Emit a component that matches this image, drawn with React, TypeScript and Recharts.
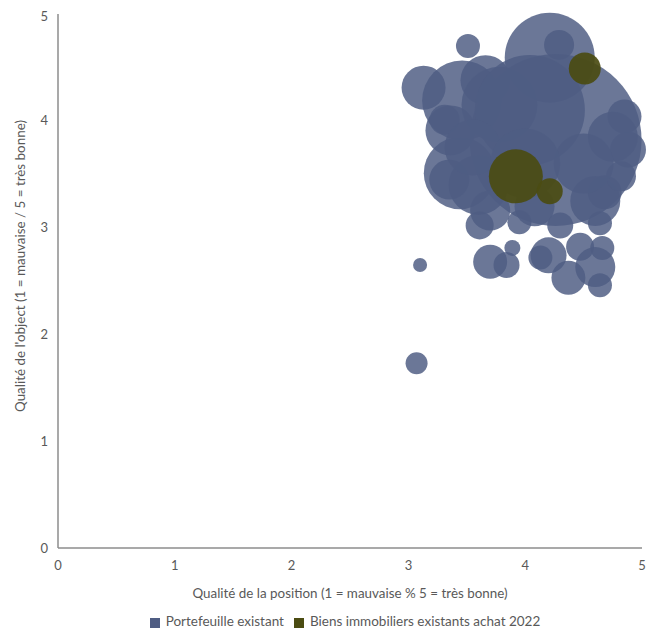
import React from "react";
import {
  ScatterChart,
  Scatter,
  XAxis,
  YAxis,
  ZAxis,
  Legend,
} from "recharts";

// Portefeuille existant: position quality, object quality, bubble size
const portfolioX = [
  4.21, 4.29, 4.26, 3.13, 3.51, 3.46, 3.36, 3.66, 3.78, 4.04, 3.31, 3.44,
  3.6, 3.7, 3.61, 3.7, 3.84, 3.89, 3.1, 3.07, 4.3, 4.2, 4.13, 4.37, 4.47,
  4.66, 4.64, 4.6, 4.68, 4.64, 4.85, 4.88, 4.75, 4.6, 4.08, 3.95, 3.35,
  4.82, 4.5, 3.55, 4.0,
];
const portfolioY = [
  4.59, 4.71, 3.82, 4.31, 4.7, 4.19, 3.91, 4.38, 4.15, 4.1, 4.01, 3.51,
  3.4, 3.16, 3.02, 2.68, 2.65, 2.81, 2.65, 1.73, 3.02, 2.74, 2.72, 2.53,
  2.82, 2.81, 2.46, 2.63, 3.33, 3.04, 4.04, 3.73, 3.85, 3.25, 3.2, 3.05,
  3.45, 3.48, 3.6, 3.75, 3.6,
];
const portfolioSize = [
  2025, 225, 7396, 484, 144, 1600, 625, 625, 1444, 3025, 225, 1296, 900,
  400, 196, 289, 169, 64, 49, 121, 169, 324, 144, 289, 196, 144, 144, 400,
  289, 144, 289, 324, 625, 625, 400, 144, 400, 225, 900, 784, 1225,
];

// Biens immobiliers existants achat 2022
const purchaseX = [3.92, 4.21, 4.51];
const purchaseY = [3.48, 3.34, 4.49];
const purchaseSize = [729, 169, 256];

const seriesNames = ["Portefeuille existant", "Biens immobiliers existants achat 2022"];

const portfolio = portfolioX.map((x, i) => ({
  x,
  y: portfolioY[i],
  z: portfolioSize[i],
}));
const purchases = purchaseX.map((x, i) => ({
  x,
  y: purchaseY[i],
  z: purchaseSize[i],
}));

const ticks = [0, 1, 2, 3, 4, 5];
const textColor = "#595959";
const font = "Lato, 'Open Sans', sans-serif";

function YLabel(props: any) {
  const { viewBox } = props;
  const cx = 12;
  const cy = viewBox.y + viewBox.height / 2 - 15;
  return (
    <text
      x={cx}
      y={cy}
      transform={`rotate(-90, ${cx}, ${cy})`}
      textAnchor="middle"
      dominantBaseline="central"
      fontSize={13.4}
      fill={textColor}
      fontFamily={font}
    >
      Qualité de l'object (1 = mauvaise / 5 = très bonne)
    </text>
  );
}

export default function App() {
  return (
    <div style={{ fontFamily: font }}>
      <ScatterChart
        width={640}
        height={629}
        margin={{ top: 6, right: 6, left: 0, bottom: 0 }}
      >
        <XAxis
          type="number"
          dataKey="x"
          domain={[0, 5]}
          ticks={ticks}
          tickLine={false}
          axisLine={{ stroke: "#8c8c8c", strokeWidth: 1.5 }}
          tick={{ fontSize: 13, fill: textColor, fontFamily: font }}
          tickMargin={7}
          height={65}
          label={{
            value: "Qualité de la position (1 = mauvaise % 5 = très bonne)",
            position: "insideBottom",
            offset: 15,
            style: { fontSize: 13.4, fill: textColor, fontFamily: font },
          }}
        />
        <YAxis
          type="number"
          dataKey="y"
          domain={[0, 5]}
          ticks={ticks}
          tickLine={false}
          axisLine={{ stroke: "#8c8c8c", strokeWidth: 1.5 }}
          tick={{ fontSize: 13, fill: textColor, fontFamily: font }}
          tickMargin={4}
          width={50}
          label={<YLabel />}
        />
        <ZAxis type="number" dataKey="z" domain={[0, 8000]} range={[0, 25133]} />
        <Legend
          verticalAlign="bottom"
          height={24}
          iconType="square"
          iconSize={10}
          itemSorter={(item: any) => seriesNames.indexOf(item.value)}
          wrapperStyle={{
            fontSize: 13.5,
            color: textColor,
            fontFamily: font,
            left: 50,
            width: 584,
          }}
          formatter={(value: string) => (
            <span style={{ color: textColor, marginLeft: 2 }}>{value}</span>
          )}
        />
        <Scatter
          name={seriesNames[0]}
          data={portfolio}
          fill="#4f5d83"
          fillOpacity={0.84}
          isAnimationActive={false}
        />
        <Scatter
          name={seriesNames[1]}
          data={purchases}
          fill="#4b4c12"
          fillOpacity={0.92}
          isAnimationActive={false}
        />
      </ScatterChart>
    </div>
  );
}
